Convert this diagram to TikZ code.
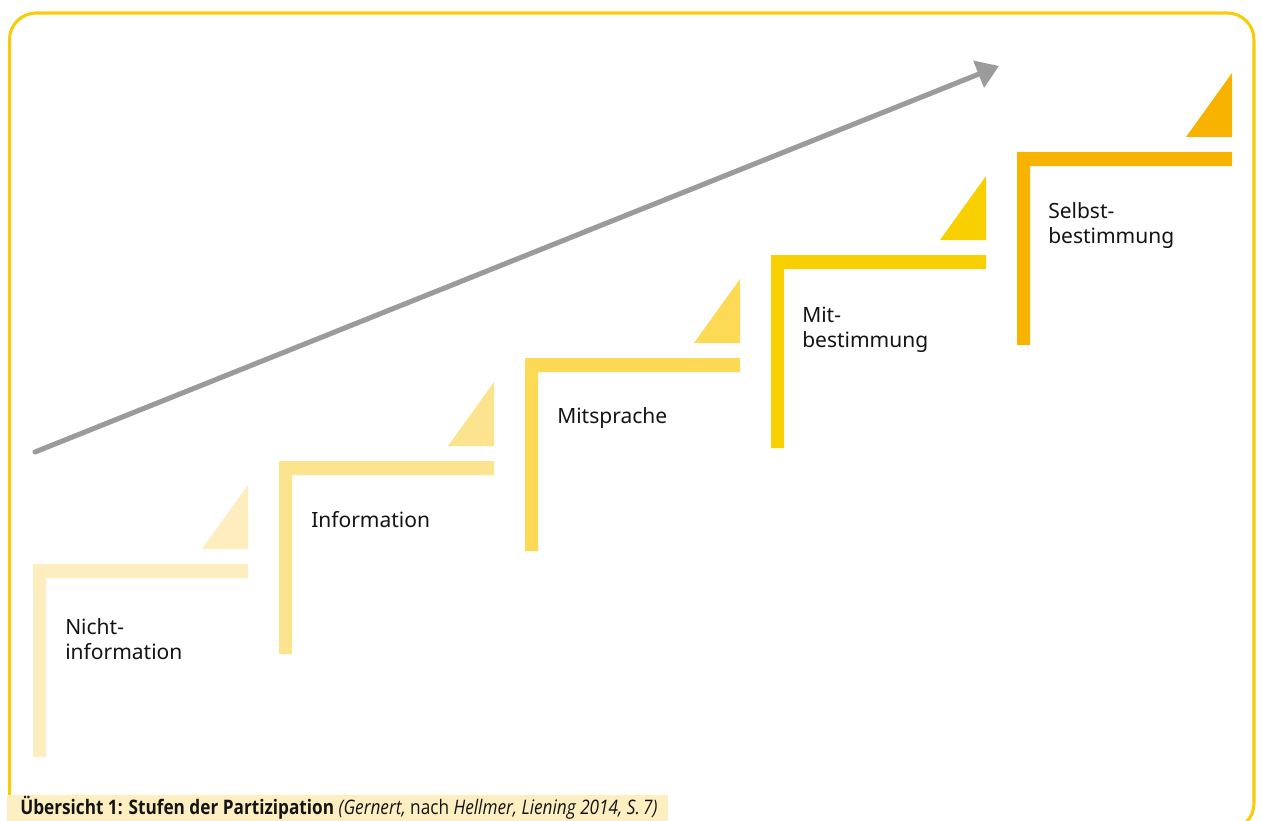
\documentclass[tikz,border=0pt]{standalone}
\usepackage{fontspec}
\setmainfont{Noto Sans}
\newfontfamily\capfont[FakeStretch=0.86]{Open Sans}
\usetikzlibrary{arrows.meta}
\definecolor{frameY}{HTML}{F7CD0A}
\definecolor{stepA}{HTML}{FDEDBF}
\definecolor{stepB}{HTML}{FCE38E}
\definecolor{stepC}{HTML}{FCDA55}
\definecolor{stepD}{HTML}{F8CF00}
\definecolor{stepE}{HTML}{F8B300}
\definecolor{arrowG}{HTML}{9B9B9B}
\definecolor{capBG}{HTML}{FDEFC2}
\definecolor{txt}{HTML}{141414}
\tikzset{
  lbl/.style={anchor=base west, inner sep=0pt, align=left, text=txt,
    font=\fontsize{15.75}{18.75}\selectfont},
  captxt/.style={anchor=base west, inner sep=0pt, text=txt,
    font=\capfont\fontsize{15}{17}\selectfont},
  frameline/.style={draw=frameY, line width=2.3pt, rounded corners=20pt},
  growarrow/.style={draw=arrowG, line width=3.8pt, line cap=round,
    -{Triangle[length=16.5pt,width=21pt]}}
}
\begin{document}
\begin{tikzpicture}[x=0.75pt,y=-0.75pt]
\useasboundingbox (0,0) rectangle (1262,820);
\clip (0,0) rectangle (1262,820);
\fill[white] (0,0) rectangle (1262,820);
% frame
\draw[frameline] (9.5,13) rectangle (1254,830);
% steps
\foreach \i/\col in {0/stepA,1/stepB,2/stepC,3/stepD,4/stepE}{
  \pgfmathsetmacro{\xo}{33+246*\i}
  \pgfmathsetmacro{\yo}{564-103*\i}
  \fill[\col] (\xo,\yo) -- ++(215,0) -- ++(0,14) -- ++(-202,0) -- ++(0,179) -- ++(-13,0) -- cycle;
  \fill[\col] (\xo+215,\yo-15) -- ++(0,-64) -- ++(-46,64) -- cycle;
}
% labels (anchor = baseline of last line)
\node[lbl] (l1) at (65,659) {Nicht-\\information};
\node[lbl] (l2) at (311,527) {Information};
\node[lbl] (l3) at (557,423) {Mitsprache};
\node[lbl] (l4) at (802,347) {Mit-\\bestimmung};
\node[lbl] (l5) at (1048,243) {Selbst-\\bestimmung};
% arrow
\coordinate (arrS) at (35,452);
\coordinate (arrE) at (999,66);
\draw[growarrow] (arrS) -- (arrE);
% caption
\fill[capBG] (7,795) rectangle (668,830);
\node[captxt] (cap) at (20,814) {\textbf{Übersicht 1: Stufen der Partizipation} \textit{(Gernert,} nach \textit{Hellmer, Liening 2014, S.\,7)}};
\end{tikzpicture}
\end{document}
